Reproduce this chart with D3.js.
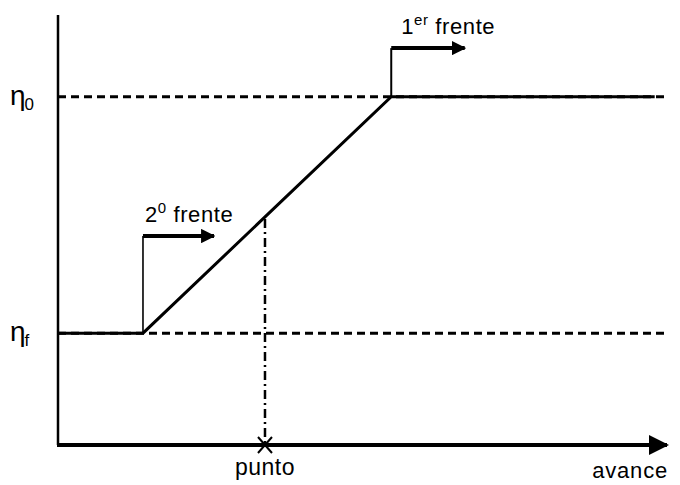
<!DOCTYPE html>
<html>
<head>
<meta charset="utf-8">
<script src="https://cdn.jsdelivr.net/npm/d3@7/dist/d3.min.js"></script>
<style>
  html, body { margin: 0; padding: 0; background: #fff; }
  svg { display: block; }
  text { font-family: "Liberation Sans", Arial, sans-serif; fill: #000; }
</style>
</head>
<body>
<svg id="chart" width="680" height="485"></svg>
<script>
// Advance coordinate (x) and free-surface level (y), arbitrary units
const levelNames = ["η0", "ηf"];
const levelValues = [8.1, 2.6];
const profileX = [0, 1.4, 5.49, 9.83];
const profileY = [2.6, 2.6, 8.1, 8.1];
const frontNames = ["2", "1"];
const frontSup = ["0", "er"];
const frontX = [1.4, 5.49];
const frontBase = [2.6, 8.1];
const frontTop = [4.86, 9.23];
const frontTip = [2.57, 6.7];
const pointX = 3.41;
const pointLabel = "punto";
const axisLabel = "avance";

const svg = d3.select("#chart");
const x = d3.scaleLinear().domain([0, 10]).range([58, 665]);
const y = d3.scaleLinear().domain([0, 10]).range([445, 15]);

const defs = svg.append("defs");
defs.append("marker")
  .attr("id", "head").attr("viewBox", "0 0 10 10")
  .attr("refX", 9).attr("refY", 5)
  .attr("markerWidth", 3.6).attr("markerHeight", 3.6)
  .attr("markerUnits", "strokeWidth")
  .attr("orient", "auto")
  .append("path").attr("d", "M0,0 L10,5 L0,10 z").attr("fill", "#000");
defs.append("marker")
  .attr("id", "headBig").attr("viewBox", "0 0 10 10")
  .attr("refX", 9).attr("refY", 5)
  .attr("markerWidth", 5).attr("markerHeight", 5)
  .attr("markerUnits", "strokeWidth")
  .attr("orient", "auto")
  .append("path").attr("d", "M0,0 L10,5 L0,10 z").attr("fill", "#000");

// Reference levels (dashed)
svg.selectAll("line.level").data(levelValues).join("line")
  .attr("class", "level")
  .attr("x1", x(0)).attr("x2", x(10))
  .attr("y1", d => y(d)).attr("y2", d => y(d))
  .attr("stroke", "#000").attr("stroke-width", 3)
  .attr("stroke-dasharray", "8,5");

// Y axis
svg.append("line")
  .attr("x1", x(0)).attr("x2", x(0))
  .attr("y1", y(0)).attr("y2", y(10))
  .attr("stroke", "#000").attr("stroke-width", 2.5);

// X axis with arrow
svg.append("line")
  .attr("x1", x(0) - 1).attr("x2", x(10) + 2)
  .attr("y1", y(0)).attr("y2", y(0))
  .attr("stroke", "#000").attr("stroke-width", 4)
  .attr("marker-end", "url(#headBig)");

// Level profile
const pts = profileX.map((v, i) => [x(v), y(profileY[i])]);
svg.append("path")
  .attr("d", d3.line()(pts))
  .attr("fill", "none").attr("stroke", "#000").attr("stroke-width", 3)
  .attr("stroke-linejoin", "miter");

// Fronts
frontX.forEach((fx, i) => {
  svg.append("line")
    .attr("x1", x(fx)).attr("x2", x(fx))
    .attr("y1", y(frontBase[i])).attr("y2", y(frontTop[i]))
    .attr("stroke", "#000").attr("stroke-width", i === 0 ? 1.6 : 2);
  svg.append("line")
    .attr("x1", x(fx)).attr("x2", x(frontTip[i]))
    .attr("y1", y(frontTop[i])).attr("y2", y(frontTop[i]))
    .attr("stroke", "#000").attr("stroke-width", 4)
    .attr("marker-end", "url(#head)");
  const t = svg.append("text")
    .attr("x", x(fx) + (i === 0 ? 2 : 10))
    .attr("y", y(frontTop[i]) - 14)
    .attr("font-size", 22)
    .attr("letter-spacing", 0.6);
  t.append("tspan").text(frontNames[i]);
  t.append("tspan").attr("dy", -9).attr("font-size", 15).text(frontSup[i]);
  t.append("tspan").attr("dy", 9).text(" frente");
});

// Point on the profile projected to the axis
svg.append("line")
  .attr("x1", x(pointX)).attr("x2", x(pointX))
  .attr("y1", y(profileY[1] + (pointX - profileX[1]) / (profileX[2] - profileX[1]) * (profileY[2] - profileY[1])) + 2)
  .attr("y2", y(0))
  .attr("stroke", "#000").attr("stroke-width", 2.5)
  .attr("stroke-dasharray", "9,4,2,4");

const cx = x(pointX), cy = y(0);
svg.append("path")
  .attr("d", `M${cx - 7},${cy - 8}L${cx + 7},${cy + 8}M${cx + 7},${cy - 8}L${cx - 7},${cy + 8}`)
  .attr("stroke", "#000").attr("stroke-width", 2);

svg.append("text")
  .attr("x", cx).attr("y", 475)
  .attr("text-anchor", "middle").attr("font-size", 23)
  .attr("letter-spacing", 0.5)
  .text(pointLabel);

svg.append("text")
  .attr("x", 668).attr("y", 478)
  .attr("text-anchor", "end").attr("font-size", 22)
  .attr("letter-spacing", 0.8)
  .text(axisLabel);

// Level labels
levelValues.forEach((v, i) => {
  const t = svg.append("text")
    .attr("x", 10).attr("y", y(v) + 8)
    .attr("font-family", "DejaVu Sans")
    .attr("font-size", 28);
  t.append("tspan").text(levelNames[i].charAt(0));
  t.append("tspan").attr("dx", -1).attr("dy", 5).attr("font-size", 17).text(levelNames[i].slice(1));
});
</script>
</body>
</html>
